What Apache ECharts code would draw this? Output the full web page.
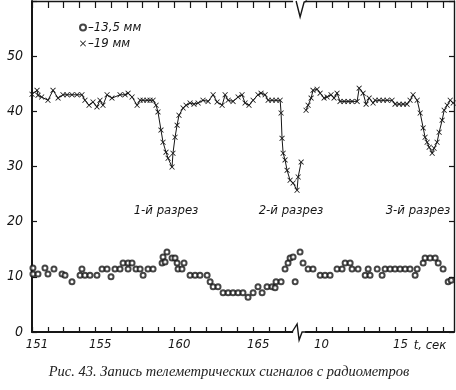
<!DOCTYPE html>
<html><head><meta charset="utf-8">
<script src="https://cdn.jsdelivr.net/npm/echarts@6/dist/echarts.min.js"></script>
<style>html,body{margin:0;padding:0;background:#fff}#c{width:456px;height:390px}</style>
</head><body><div id="c"></div>
<script>
// 19 мм (crosses), time in seconds on a continuous scale (169 = "10", 174 = "15")
var crossT = [151.00,151.32,151.38,151.61,152.01,152.33,152.65,152.96,153.22,153.53,153.85,154.16,154.35,154.61,154.86,155.11,155.30,155.49,155.75,156.06,156.57,156.89,157.08,157.33,157.65,157.84,158.03,158.28,158.47,158.66,158.85,
  158.97,159.16,159.29,159.48,159.61,159.86,159.92,160.05,160.18,160.30,160.56,160.75,161.00,161.25,161.51,161.82,162.14,162.46,162.71,163.03,163.22,163.41,163.72,164.04,164.29,164.48,164.73,164.99,165.30,165.49,165.75,165.94,166.19,166.44,166.70,
  166.76,166.82,166.89,167.01,167.14,167.33,167.52,167.77,167.84,168.03,168.20,
  168.34,168.47,168.66,168.78,169.04,169.23,169.48,169.67,169.92,170.11,170.30,170.49,170.75,171.00,171.25,171.57,171.70,171.95,172.14,172.33,172.58,172.71,172.96,173.22,173.47,173.78,173.97,174.23,174.48,174.73,174.92,175.11,175.37,
  175.56,175.75,175.87,176.00,176.13,176.32,176.44,176.63,176.76,176.95,177.08,177.27,177.46,177.65];
var crossV = [43.1,43.8,42.9,42.6,42.0,43.8,42.4,43.0,43.0,43.0,43.0,43.0,42.0,41.1,41.7,40.8,42.0,41.1,43.0,42.4,43.0,43.0,43.3,42.6,41.1,42.0,42.0,42.0,42.0,42.0,41.1,
  39.9,36.6,34.4,32.6,31.5,29.9,32.4,35.3,37.5,39.3,40.6,41.1,41.5,41.3,41.5,42.0,41.8,43.0,41.7,41.1,43.0,42.0,41.8,42.6,43.0,41.5,41.1,42.0,43.0,43.3,43.0,42.0,42.0,42.0,42.0,
  39.7,35.1,32.4,31.2,29.3,27.5,27.0,25.7,28.1,30.8,null,
  40.2,41.1,42.4,43.8,44.0,43.3,42.4,42.6,43.0,42.4,43.3,41.8,41.8,41.8,41.8,41.8,44.2,43.3,41.3,42.4,41.5,42.0,42.0,42.0,42.0,42.0,41.3,41.3,41.3,41.3,42.0,43.0,42.0,
  39.7,37.0,35.3,34.4,33.5,32.4,33.3,34.4,36.2,38.4,40.2,41.1,42.0,41.5];
// 13,5 мм (circles)
var circleT = [151.06,151.06,151.38,151.82,152.01,152.39,152.90,153.09,153.53,154.04,154.16,154.35,154.67,155.11,155.43,155.75,156.00,156.25,156.57,156.76,157.08,157.08,157.33,157.58,157.84,158.03,158.34,158.66,
  159.23,159.29,159.42,159.54,159.86,160.05,160.18,160.24,160.49,160.62,161.00,161.32,161.63,162.08,162.27,162.46,162.77,163.09,163.41,163.72,164.04,164.35,164.67,164.99,165.30,165.56,165.87,166.19,166.38,166.44,166.76,
  167.01,167.20,167.33,167.52,167.65,167.96,168.15,168.47,168.78,169.23,169.54,169.86,170.30,170.62,170.81,171.13,171.25,171.63,172.08,172.27,172.39,172.84,173.15,173.34,173.66,173.97,174.29,174.61,174.92,175.24,175.37,
  175.75,175.87,176.19,176.51,176.70,177.01,177.33,177.52];
var circleV = [11.6,10.5,10.5,11.6,10.5,11.4,10.5,10.3,9.1,10.3,11.4,10.3,10.3,10.3,11.4,11.4,10.0,11.4,11.4,12.5,12.5,11.4,12.5,11.4,11.4,10.3,11.4,11.4,
  12.5,13.6,12.7,14.5,13.4,13.4,12.5,11.4,11.4,12.5,10.3,10.3,10.3,10.3,9.1,8.2,8.2,7.1,7.1,7.1,7.1,7.1,6.3,7.1,8.2,7.1,8.2,8.2,8.0,9.1,9.1,
  11.4,12.5,13.4,13.6,9.1,14.5,12.5,11.4,11.4,10.3,10.3,10.3,11.4,11.4,12.5,12.5,11.4,11.4,10.3,11.4,10.3,11.4,10.3,11.4,11.4,11.4,11.4,11.4,11.4,10.3,11.4,
  12.5,13.4,13.4,13.4,12.5,11.4,9.1,9.4];
// axis labels
var xLabelValues = [151,155,160,165,169,174];
var xLabelTexts  = ['151','155','160','165','10','15'];
var yLabelTexts  = ['0','10','20','30','40','50'];
var breakAt = 168;
var seriesNames = ['13,5 мм','19 мм'];
var notes = ['1-й разрез','2-й разрез','3-й разрез'];
var caption = 'Рис. 43. Запись телеметрических сигналов с радиометров';
var axisTitle = 't, сек';

var ink = '#161616';
var italicFont = "'Liberation Sans Narrow','DejaVu Sans Condensed','DejaVu Sans',sans-serif";
var crossPath = 'path://M0,1L1,0L5,4L9,0L10,1L6,5L10,9L9,10L5,6L1,10L0,9L4,5Z';

var xTicks = [];
for (var k = 151; k <= 177; k++) { if (k !== breakAt) xTicks.push(k); }

var crossData = crossT.map(function(t,i){ return [t, crossV[i] === null ? '-' : crossV[i]]; });
var circleData = circleT.map(function(t,i){ return [t, circleV[i]]; });

var chart = echarts.init(document.getElementById('c'), null, {renderer:'canvas'});
function xAx(pos){
  return {
    type:'value', position:pos, min:151, max:177.7,
    axisLine:{show:true, onZero:false, lineStyle:{color:ink, width: pos==='bottom'?1.8:1.4}},
    axisTick:{show:true, inside:true, length: pos==='bottom'?5:7, customValues:xTicks, lineStyle:{color:ink,width:1.2}},
    splitLine:{show:false},
    axisLabel:{show: pos==='bottom', customValues:xLabelValues, margin:6, padding:[0,0,0,10],
      formatter:function(v){ var i = xLabelValues.indexOf(Math.round(v)); return i>=0?xLabelTexts[i]:''; },
      color:ink, fontSize:13, fontStyle:'italic', fontFamily:italicFont}
  };
}
function yAx(pos){
  return {
    type:'value', position:pos, min:0, max:60, interval:10,
    axisLine:{show:true, onZero:false, lineStyle:{color:ink, width: pos==='left'?2:1.4}},
    axisTick:{show:true, inside:true, length:5, lineStyle:{color:ink,width:1.2}},
    splitLine:{show:false},
    axisLabel:{show: pos==='left', margin:9,
      formatter:function(v){ return yLabelTexts[v/10] || ''; },
      color:ink, fontSize:14, fontStyle:'italic', fontFamily:italicFont}
  };
}
chart.setOption({
  animation:false,
  backgroundColor:'#fff',
  grid:{left:32, right:2, top:1, bottom:58},
  xAxis:[xAx('bottom'), xAx('top')],
  yAxis:[yAx('left'), yAx('right')],
  legend:{
    orient:'vertical', left:74, top:16, itemGap:3, itemWidth:6, itemHeight:6,
    itemStyle:{borderWidth:1},
    data:[{name:seriesNames[0], icon:'emptyCircle'},{name:seriesNames[1], icon:crossPath}],
    formatter:function(n){ return '–' + n; },
    textStyle:{color:ink, fontSize:13, fontStyle:'italic', fontFamily:italicFont, padding:[0,0,0,-3]}
  },
  series:[
    {name:seriesNames[0], type:'scatter', data:circleData, symbol:'emptyCircle', symbolSize:5,
     itemStyle:{color:ink, borderColor:ink, borderWidth:1.1}},
    {name:seriesNames[1], type:'line', data:crossData, symbol:crossPath, symbolSize:5.5, showAllSymbol:true,
     connectNulls:false, lineStyle:{color:ink, width:1}, itemStyle:{color:ink}}
  ]
});

var p = function(t,v){ return chart.convertToPixel({xAxisIndex:0, yAxisIndex:0}, [t,v]); };
var b0 = p(breakAt - 0.1, 0), b1 = p(breakAt - 0.1, 60);
var bx = b0[0], by = b0[1], ty = b1[1];
var txtStyle = {fill:ink, fontSize:13, fontStyle:'italic', fontFamily:italicFont};
chart.setOption({
  graphic:[
    {type:'rect', shape:{x:bx-6, y:by-2, width:12, height:4}, style:{fill:'#fff'}, z:100},
    {type:'polyline', shape:{points:[[bx-7,by],[bx-2,by-8],[bx,by+8],[bx+3,by],[bx+8,by]]}, style:{stroke:ink, fill:null, lineWidth:1.4}, z:101},
    {type:'rect', shape:{x:bx-6, y:ty-2, width:12, height:4}, style:{fill:'#fff'}, z:100},
    {type:'polyline', shape:{points:[[bx-3,ty],[bx+1,ty+16],[bx+5,ty+1],[bx+8,ty]]}, style:{stroke:ink, fill:null, lineWidth:1.4}, z:101},
    {type:'text', x:166, y:211, style:Object.assign({text:notes[0], align:'center', verticalAlign:'middle'}, txtStyle), z:102},
    {type:'text', x:291, y:211, style:Object.assign({text:notes[1], align:'center', verticalAlign:'middle'}, txtStyle), z:102},
    {type:'text', x:418, y:211, style:Object.assign({text:notes[2], align:'center', verticalAlign:'middle'}, txtStyle), z:102},
    {type:'text', x:430, y:346, style:Object.assign({text:axisTitle, align:'center', verticalAlign:'middle'}, txtStyle), z:102},
    {type:'text', x:229, y:372, style:{text:caption, align:'center', verticalAlign:'middle', fill:'#222', fontSize:14.5, fontStyle:'italic', fontFamily:"'Liberation Serif','DejaVu Serif',serif"}, z:102}
  ]
});
</script></body></html>
